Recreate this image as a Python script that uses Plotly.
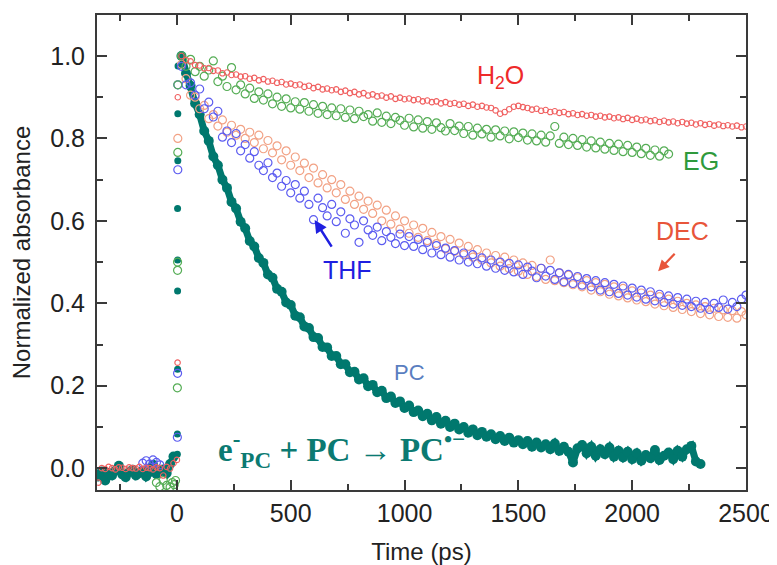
import plotly.graph_objects as go

# time grids (ps)
t_pre = [-345, -330, -315, -300, -285, -270, -255, -240, -225, -210, -195, -180,
         -165, -150, -135, -120, -105, -90, -75, -60, -45, -30, -15]
t_post = [20, 40, 60, 80, 100, 120, 140, 160, 180, 200, 220, 240, 260, 280, 300,
          320, 340, 360, 380, 400, 420, 440, 460, 480, 500, 520, 540, 560, 580, 600,
          620, 640, 660, 680, 700, 720, 740, 760, 780, 800, 820, 840, 860, 880, 900,
          920, 940, 960, 980, 1000, 1020, 1040, 1060, 1080, 1100, 1120, 1140, 1160, 1180, 1200,
          1220, 1240, 1260, 1280, 1300, 1320, 1340, 1360, 1380, 1400, 1420, 1440, 1460, 1480, 1500,
          1520, 1540, 1560, 1580, 1600, 1620, 1640, 1660, 1680, 1700, 1720, 1740, 1760, 1780, 1800,
          1820, 1840, 1860, 1880, 1900, 1920, 1940, 1960, 1980, 2000, 2020, 2040, 2060, 2080, 2100,
          2120, 2140, 2160, 2180, 2200, 2220, 2240, 2260, 2280, 2300, 2320, 2340, 2360, 2380, 2400,
          2420, 2440, 2460, 2480, 2500]

# H2O
h2o_pre = [-0.035, 0.000, -0.002, 0.003, 0.000, -0.003, 0.002, 0.001, -0.002, 0.002, 0.000, -0.001,
           0.003, -0.002, 0.001, 0.000, -0.003, 0.002, 0.000, -0.018, 0.003, -0.001, 0.012]
h2o_rise_t = [0, 3, 4]
h2o_rise = [0.02, 0.256, 0.90]
h2o = [1.000, 0.990, 0.987, 0.978, 0.977, 0.970, 0.971, 0.964, 0.965, 0.958, 0.960, 0.954, 0.955, 0.950, 0.951,
       0.945, 0.947, 0.941, 0.944, 0.938, 0.940, 0.935, 0.937, 0.931, 0.933, 0.929, 0.931, 0.925, 0.928, 0.922,
       0.925, 0.919, 0.921, 0.917, 0.919, 0.913, 0.916, 0.910, 0.913, 0.907, 0.910, 0.904, 0.907, 0.902, 0.904,
       0.899, 0.902, 0.896, 0.899, 0.895, 0.897, 0.893, 0.895, 0.890, 0.892, 0.888, 0.890, 0.885, 0.888, 0.884,
       0.886, 0.882, 0.884, 0.879, 0.882, 0.877, 0.879, 0.875, 0.874, 0.868, 0.860, 0.864, 0.871, 0.877, 0.879,
       0.876, 0.874, 0.870, 0.872, 0.867, 0.869, 0.864, 0.866, 0.862, 0.864, 0.859, 0.861, 0.857, 0.859, 0.855,
       0.857, 0.853, 0.855, 0.851, 0.853, 0.849, 0.851, 0.847, 0.850, 0.845, 0.848, 0.844, 0.846, 0.842, 0.844,
       0.840, 0.843, 0.839, 0.841, 0.837, 0.840, 0.836, 0.838, 0.834, 0.837, 0.833, 0.835, 0.831, 0.834, 0.830,
       0.832, 0.829, 0.831, 0.827, 0.829]

# EG (ends ~2160 ps)
eg_pre_t = [-90, -75, -60, -45, -30, -20, -12, -6]
eg_pre = [-0.035, -0.045, -0.030, -0.042, -0.046, -0.035, -0.040, -0.030]
eg_rise_t = [2, 3, 3, 4, 4]
eg_rise = [0.195, 0.48, 0.50, 0.766, 0.93]
eg = [1.000, 0.975, 0.992, 0.962, 0.975, 0.951, 0.966, 0.988, 0.938, 0.951, 0.926, 0.972, 0.918, 0.930, 0.908,
      0.922, 0.897, 0.913, 0.893, 0.908, 0.884, 0.900, 0.878, 0.896, 0.874, 0.889, 0.871, 0.887, 0.866, 0.882,
      0.861, 0.878, 0.858, 0.874, 0.855, 0.872, 0.851, 0.869, 0.848, 0.866, 0.853, 0.858, 0.842, 0.862, 0.839,
      0.854, 0.836, 0.851, 0.844, 0.832, 0.849, 0.828, 0.845, 0.825, 0.841, 0.822, 0.838, 0.826, 0.818, 0.836,
      0.819, 0.830, 0.812, 0.829, 0.808, 0.825, 0.811, 0.822, 0.803, 0.821, 0.806, 0.818, 0.799, 0.816, 0.802,
      0.813, 0.796, 0.811, 0.794, 0.808, 0.791, 0.806, 0.829, 0.788, 0.803, 0.785, 0.800, 0.783, 0.797, 0.779,
      0.794, 0.777, 0.791, 0.774, 0.788, 0.771, 0.786, 0.768, 0.783, 0.766, 0.779, 0.763, 0.776, 0.759, 0.772,
      0.757, 0.770, 0.762]

# DEC
dec_rise_t = [4]
dec_rise = [0.80]
dec = [0.980, 0.945, 0.905, 0.900, 0.872, 0.880, 0.848, 0.858, 0.830, 0.845, 0.815, 0.832, 0.808, 0.822, 0.800,
       0.815, 0.790, 0.808, 0.775, 0.795, 0.765, 0.782, 0.748, 0.770, 0.735, 0.755, 0.722, 0.740, 0.705, 0.728,
       0.692, 0.712, 0.680, 0.700, 0.668, 0.688, 0.652, 0.672, 0.640, 0.660, 0.628, 0.648, 0.618, 0.638, 0.600,
       0.626, 0.592, 0.612, 0.580, 0.600, 0.570, 0.590, 0.560, 0.582, 0.552, 0.572, 0.545, 0.562, 0.532, 0.555,
       0.526, 0.546, 0.518, 0.538, 0.512, 0.530, 0.505, 0.522, 0.498, 0.516, 0.490, 0.512, 0.484, 0.505, 0.478,
       0.498, 0.470, 0.492, 0.465, 0.485, 0.458, 0.505, 0.455, 0.474, 0.450, 0.468, 0.445, 0.462, 0.440, 0.455,
       0.432, 0.450, 0.428, 0.446, 0.422, 0.440, 0.418, 0.436, 0.413, 0.430, 0.408, 0.425, 0.404, 0.420, 0.398,
       0.416, 0.394, 0.410, 0.390, 0.405, 0.385, 0.400, 0.380, 0.396, 0.375, 0.392, 0.372, 0.388, 0.368, 0.384,
       0.366, 0.382, 0.364, 0.380, 0.372]

# THF
thf_pre_t = [-150, -135, -120, -105, -90, -75]
thf_pre = [0.012, 0.018, 0.010, 0.020, 0.014, 0.008]
thf_rise_t = [2, 3, 4, 4]
thf_rise = [0.075, 0.23, 0.724, 0.93]
thf = [0.975, 0.930, 0.935, 0.905, 0.920, 0.872, 0.888, 0.852, 0.866, 0.803, 0.818, 0.790, 0.812, 0.770, 0.785,
       0.752, 0.768, 0.735, 0.722, 0.741, 0.705, 0.716, 0.684, 0.698, 0.668, 0.688, 0.655, 0.672, 0.640, 0.603,
       0.655, 0.632, 0.612, 0.640, 0.598, 0.622, 0.570, 0.605, 0.590, 0.548, 0.600, 0.578, 0.565, 0.585, 0.552,
       0.574, 0.560, 0.545, 0.568, 0.540, 0.562, 0.538, 0.555, 0.530, 0.548, 0.522, 0.540, 0.518, 0.534, 0.512,
       0.528, 0.505, 0.522, 0.500, 0.518, 0.496, 0.510, 0.490, 0.505, 0.485, 0.500, 0.480, 0.497, 0.476, 0.493,
       0.470, 0.488, 0.478, 0.462, 0.485, 0.466, 0.480, 0.458, 0.474, 0.452, 0.470, 0.448, 0.465, 0.444, 0.460,
       0.440, 0.455, 0.432, 0.450, 0.428, 0.446, 0.424, 0.442, 0.420, 0.437, 0.415, 0.432, 0.410, 0.428, 0.406,
       0.422, 0.402, 0.418, 0.398, 0.414, 0.395, 0.410, 0.392, 0.405, 0.388, 0.402, 0.385, 0.400, 0.390, 0.408,
       0.386, 0.402, 0.392, 0.410, 0.420]

# PC (ends ~2300 ps)
pc_pre = [-0.020, -0.008, -0.030, -0.012, -0.018, -0.006, 0.006, -0.015, -0.022, -0.010, -0.004, -0.018,
          -0.012, -0.006, -0.020, -0.010, 0.008, -0.014, -0.008, -0.003, -0.012, 0.010, 0.028]
pc_rise_t = [2, 2, 3, 3, 3, 3, 4, 4, 5]
pc_rise = [0.034, 0.083, 0.24, 0.43, 0.505, 0.63, 0.746, 0.86, 0.976]
pc = [1.000, 0.958, 0.928, 0.885, 0.858, 0.818, 0.794, 0.756, 0.735, 0.700, 0.680, 0.646, 0.630, 0.598, 0.582,
      0.551, 0.538, 0.510, 0.498, 0.470, 0.462, 0.435, 0.428, 0.402, 0.396, 0.370, 0.366, 0.344, 0.340, 0.318,
      0.316, 0.294, 0.293, 0.272, 0.272, 0.252, 0.252, 0.233, 0.234, 0.215, 0.218, 0.199, 0.202, 0.184, 0.188,
      0.170, 0.174, 0.158, 0.162, 0.146, 0.152, 0.136, 0.140, 0.126, 0.132, 0.116, 0.124, 0.108, 0.115, 0.100,
      0.108, 0.094, 0.100, 0.086, 0.094, 0.080, 0.088, 0.076, 0.082, 0.070, 0.078, 0.066, 0.074, 0.062, 0.068,
      0.058, 0.066, 0.052, 0.062, 0.050, 0.058, 0.046, 0.060, 0.042, 0.052, 0.040, 0.014, 0.048, 0.056, 0.036,
      0.052, 0.030, 0.046, 0.034, 0.050, 0.028, 0.042, 0.026, 0.040, 0.022, 0.036, 0.018, 0.032, 0.024, 0.044,
      0.020, 0.030, 0.038, 0.022, 0.042, 0.028, 0.046, 0.054, 0.016, 0.010]

FONT = "Liberation Sans, Arial, sans-serif"
TEAL = "#00786e"

fig = go.Figure()


def add_series(x, y, color, size, symbol="circle-open", width=1.2):
    fig.add_trace(go.Scatter(
        x=x, y=y, mode="markers", showlegend=False,
        marker=dict(symbol=symbol, size=size, color=color, line=dict(width=width, color=color)),
    ))


def add_band(x, y):
    # dense filled points -> thick band (line joins the dots like the dense raw data)
    fig.add_trace(go.Scatter(
        x=x, y=y, mode="lines+markers", showlegend=False,
        line=dict(color=TEAL, width=7), marker=dict(size=10, color=TEAL),
    ))


add_band(t_pre, pc_pre)
add_band(t_post[:len(pc)], pc)
add_series(pc_rise_t, pc_rise, TEAL, 7, symbol="circle", width=0)
add_series(dec_rise_t + t_post, dec_rise + dec, "#f2a285", 8)
add_series(thf_pre_t + thf_rise_t + t_post, thf_pre + thf_rise + thf, "#5c5cf0", 8)
add_series(eg_pre_t + eg_rise_t + t_post[:len(eg)], eg_pre + eg_rise + eg, "#55ad55", 8)
add_series(t_pre + h2o_rise_t + t_post, h2o_pre + h2o_rise + h2o, "#f06060", 5.5, width=1.1)

labels = [
    dict(x=1421, y=0.949, text="H<sub>2</sub>O", color="#ee2a2a", size=25),
    dict(x=2303, y=0.746, text="EG", color="#2f9a3c", size=25),
    dict(x=2219, y=0.576, text="DEC", color="#e8553a", size=25),
    dict(x=750, y=0.480, text="THF", color="#1f1fe0", size=25),
    dict(x=1022, y=0.232, text="PC", color="#5a7ec0", size=22),
]
for lb in labels:
    fig.add_annotation(x=lb["x"], y=lb["y"], text=lb["text"], showarrow=False,
                       font=dict(family=FONT, size=lb["size"], color=lb["color"]))

# arrows
fig.add_annotation(x=605, y=0.602, ax=684, ay=0.534, axref="x", ayref="y", text="",
                   showarrow=True, arrowhead=2, arrowsize=1, arrowwidth=2.5, arrowcolor="#1f1fe0")
fig.add_annotation(x=2114, y=0.478, ax=2193, ay=0.524, axref="x", ayref="y", text="",
                   showarrow=True, arrowhead=2, arrowsize=1, arrowwidth=2.2, arrowcolor="#e8553a")

fig.add_annotation(x=724, y=0.045, showarrow=False,
                   text="<b>e<sup>-</sup><sub>PC</sub> + PC → PC<sup>•−</sup></b>",
                   font=dict(family="Liberation Serif, Times New Roman, serif", size=33, color="#0b7a72"))

axis_common = dict(
    showline=True, linecolor="#3a3a3a", linewidth=2, mirror="ticks",
    ticks="inside", ticklen=10, tickwidth=2, tickcolor="#3a3a3a",
    showgrid=False, zeroline=False, automargin=False,
    tickfont=dict(family=FONT, size=25, color="#222"),
)

fig.update_xaxes(range=[-351, 2500], tick0=0, dtick=500,
                 minor=dict(ticks="inside", ticklen=6, tickwidth=2, tickcolor="#3a3a3a", dtick=250, tick0=0),
                 title=dict(text="Time (ps)", font=dict(family=FONT, size=24, color="#222"), standoff=18),
                 **axis_common)
fig.update_yaxes(range=[-0.053, 1.0995], tick0=0, dtick=0.2, tickformat=".1f",
                 minor=dict(ticks="inside", ticklen=6, tickwidth=2, tickcolor="#3a3a3a", dtick=0.1, tick0=0),
                 title=dict(text="Normalized absorbance", font=dict(family=FONT, size=24, color="#222"), standoff=14),
                 ticklabelstandoff=5,
                 **axis_common)

# page body adds an 8 px offset; figure is sized so the plot frame lands where the reference has it
fig.update_layout(
    width=769, height=557,
    margin=dict(l=89, r=31, t=7, b=75),
    plot_bgcolor="white", paper_bgcolor="white",
)

fig.write_html("out.html")
